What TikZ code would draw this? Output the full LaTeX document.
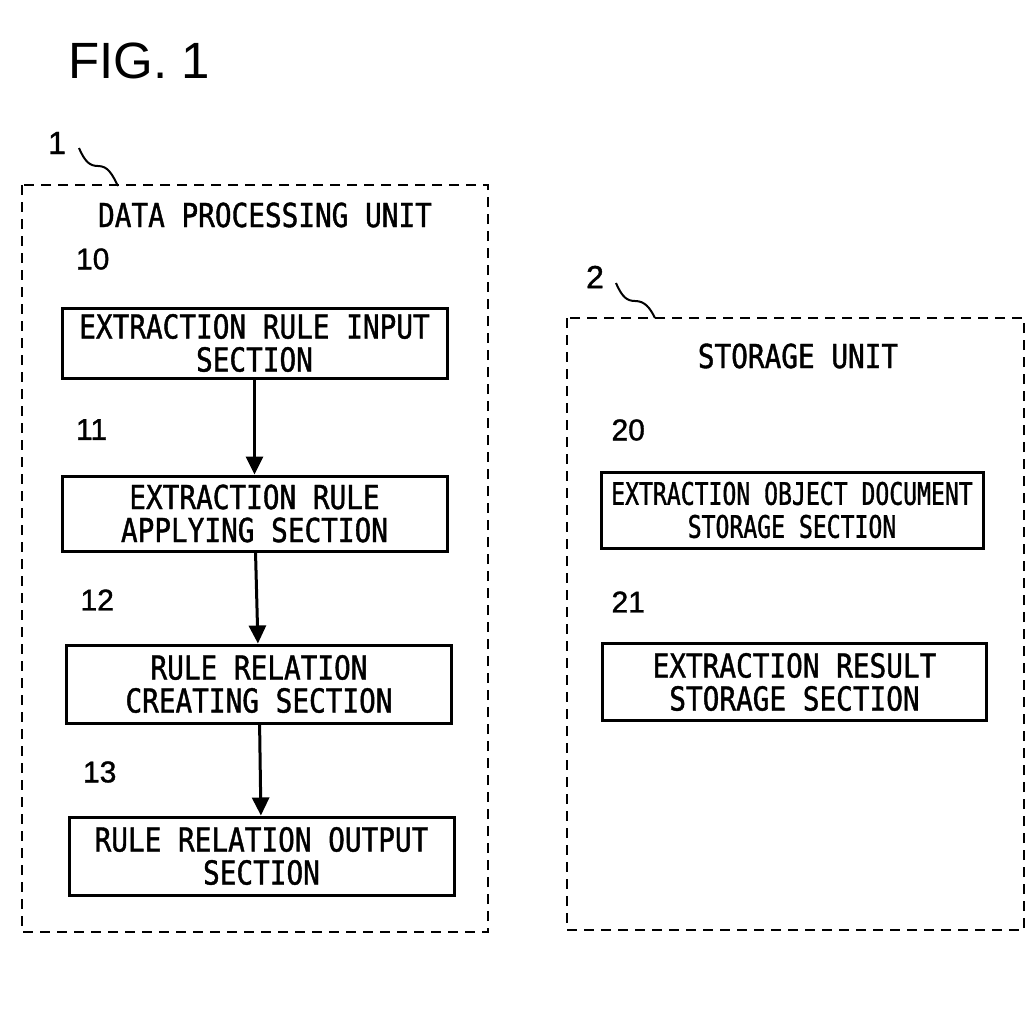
\documentclass[tikz,border=0pt]{standalone}
\usepackage{fontspec}
\setmainfont{Liberation Sans}
\newfontfamily\gothic[FakeStretch=0.84,FakeBold=1.2]{DejaVu Sans Mono}
\newfontfamily\narrowgothic[FakeStretch=0.745,FakeBold=1.2]{DejaVu Sans Mono}
\newfontfamily\refdigits[FakeBold=1.2]{Liberation Sans}
\usetikzlibrary{arrows.meta}
\tikzset{secbox/.style={draw, line width=3pt, align=center, inner sep=0pt,
                 font=\gothic\fontsize{33}{33}\selectfont},
         unitbox/.style={line width=2.5pt, dash pattern=on 10pt off 7pt},
         unittitle/.style={font=\gothic\fontsize{33}{33}\selectfont},
         refnum/.style={anchor=west, font=\refdigits\fontsize{30}{30}\selectfont},
         leader/.style={line width=2pt},
         flow/.style={line width=3pt, -{Triangle[length=18pt,width=17pt]}}}

\begin{document}
\begin{tikzpicture}[x=1pt,y=-1pt]
          \useasboundingbox (0,0) rectangle (1034,1012);
          \node[font=\fontsize{51}{51}\selectfont] (fig) at (139,61) {FIG. 1};
          % data processing unit
          \draw[unitbox] (22,185) rectangle (488,932);
          \node[font=\refdigits\fontsize{32}{32}\selectfont] (n1) at (57,143) {1};
          \coordinate (tip1) at (118,186);
          \draw[leader] (79,148) .. controls (85,162) and (90,166) .. (98,166)
                .. controls (108,166) and (112,174) .. (tip1);
          \node[unittitle] (dpu) at (265,215) {DATA PROCESSING UNIT};
          \foreach \n/\x/\y/\h/\t in {10/254.5/343/70/{EXTRACTION RULE INPUT\\SECTION},
                                     11/254.5/513.5/75/{EXTRACTION RULE\\APPLYING SECTION},
                                     12/259/684/78/{RULE RELATION\\CREATING SECTION},
                                     13/261.5/856/78/{RULE RELATION OUTPUT\\SECTION}}{
          \node[secbox, minimum width=385pt, minimum height=\h pt] (b\n) at (\x,\y) {\t};
          \node[refnum] (r\n) at (\x - 182, \y - 84) {\n};}
          \foreach \a/\b in {10/11, 11/12, 12/13}
          \draw[flow] (b\a) -- (b\b);
          % storage unit
          \draw[unitbox] (567,318) rectangle (1024,930);
          \node[font=\refdigits\fontsize{32}{32}\selectfont] (n2) at (595,277) {2};
          \coordinate (tip2) at (655,318);
          \draw[leader] (616,283) .. controls (622,297) and (627,301) .. (635,301)
                .. controls (645,301) and (650,308) .. (tip2);
          \node[unittitle] (stu) at (798,356) {STORAGE UNIT};
          \node[secbox, minimum width=382pt, minimum height=76pt,
                font=\narrowgothic\fontsize{31}{33}\selectfont] (b20) at (792,510)
                {EXTRACTION OBJECT DOCUMENT\\STORAGE SECTION};
          \node[refnum] (r20) at (608,430) {20};
          \node[secbox, minimum width=384pt, minimum height=77pt] (b21) at (794.5,682)
                {EXTRACTION RESULT\\STORAGE SECTION};
          \node[refnum] (r21) at (608,602) {21};
        \end{tikzpicture}
\end{document}
